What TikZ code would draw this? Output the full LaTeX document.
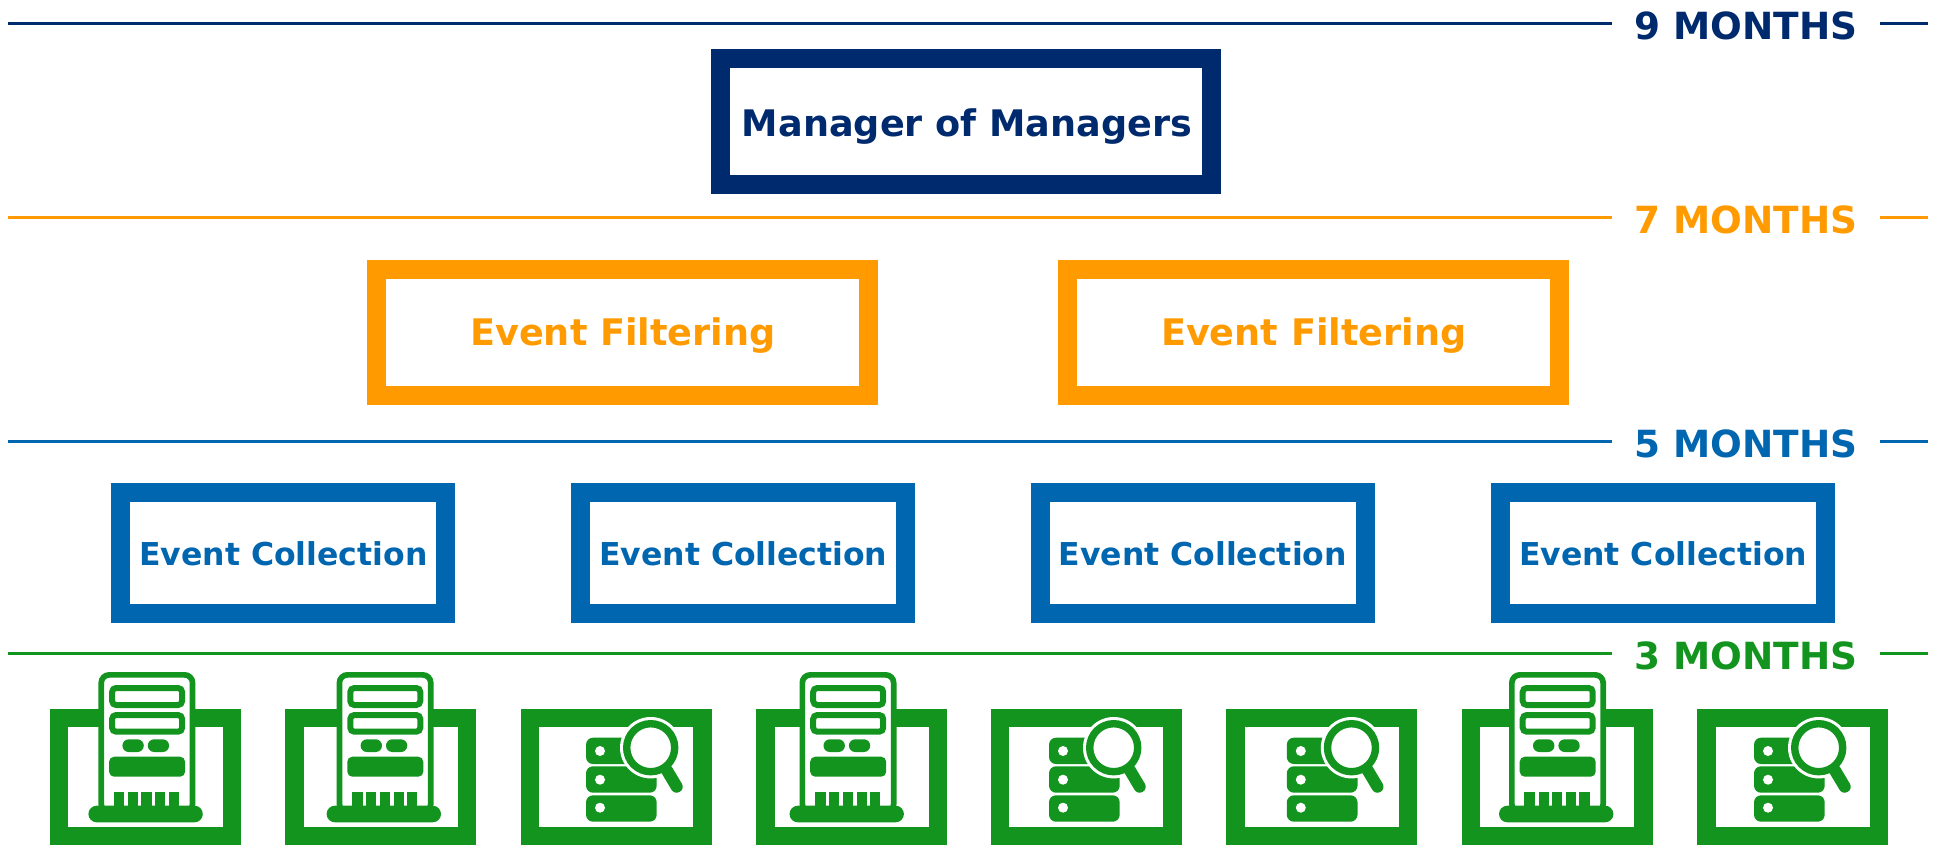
\documentclass[tikz,border=0pt]{standalone}
\usepackage{fontspec}
\setmainfont{DejaVu Sans}
\definecolor{navy}{HTML}{002A6E}
\definecolor{amber}{HTML}{FF9B00}
\definecolor{midblue}{HTML}{0066B0}
\definecolor{grass}{HTML}{12941F}
\tikzset{
  tierbox/.style={draw=#1,fill=white,line width=19bp,inner sep=0pt,outer sep=0pt,text=#1,font=\bfseries\fontsize{36.6bp}{40bp}\selectfont,text depth=0pt},
  topbox/.style={tierbox=navy,minimum width=491bp,minimum height=126bp,text height=30bp},
  filterbox/.style={tierbox=amber,minimum width=492bp,minimum height=126bp,text height=26.5bp},
  collectbox/.style={tierbox=midblue,minimum width=325bp,minimum height=121bp,text height=23.4bp,font=\bfseries\fontsize{31.5bp}{34bp}\selectfont},
  hostbox/.style={draw=grass,fill=white,line width=18.5bp,inner sep=0pt,outer sep=0pt,minimum width=172.5bp,minimum height=118bp},
  tierline/.style={draw=#1,line width=3bp},
  tierlabel/.style={text=#1,font=\bfseries\fontsize{37.4bp}{40bp}\selectfont,inner sep=0pt},
  serverico/.pic={
    \draw[grass,fill=white,line width=5.7bp,rounded corners=8bp] (2.85,2.85) rectangle (94.15,140);
    \draw[grass,line width=6bp,rounded corners=4bp] (13.7,16) rectangle (83.7,33);
    \draw[grass,line width=6bp,rounded corners=4bp] (13.7,43) rectangle (83.7,59.7);
    \fill[grass,rounded corners=6.3bp] (24,67.3) rectangle (45.4,80);
    \fill[grass,rounded corners=6.3bp] (49.4,67.3) rectangle (70.7,80);
    \fill[grass,rounded corners=5bp] (10.7,84.7) rectangle (86.7,104.7);
    \foreach \a/\b in {15.4/26,29.7/39.7,43/53.4,57/67,70.4/80.7}{\fill[grass] (\a,120.3) rectangle (\b,135);}
    \fill[grass,rounded corners=8.3bp] (-10,133.7) rectangle (104.4,150.3);
  },
  lensico/.pic={
    \foreach \t/\b in {0/26.3,28.6/55,57.6/84}{\fill[grass,rounded corners=7bp] (0,\t) rectangle (70.7,\b);}
    \foreach \t in {13.3,42,70}{\fill[white] (14,\t) circle[radius=5bp];}
    \fill[white] (64.7,10) circle[radius=30.7bp];
    \draw[grass,line width=7.4bp] (64.7,10) circle[radius=24bp];
    \draw[grass,line width=12bp,line cap=round] (80.7,32.3) -- (90.7,49);
  }
}
\begin{document}
\begin{tikzpicture}[x=1bp,y=-1bp]
\useasboundingbox (0,0) rectangle (1940,845);
% tier rules
\foreach \n/\y/\c/\t in {a/23.3/navy/9,b/217/amber/7,c/441/midblue/5,d/653/grass/3}{
  \coordinate (\n1) at (8,\y);
  \coordinate (\n2) at (1612,\y);
  \coordinate (\n3) at (1880,\y);
  \coordinate (\n4) at (1928,\y);
  \draw[tierline=\c] (\n1) -- (\n2);
  \draw[tierline=\c] (\n3) -- (\n4);
  \node[tierlabel=\c,anchor=center] (lab\n) at (1746,\y+3) {\t{} MONTHS};
}
\node[topbox] (mom) at (965.6,121.8) {\hspace*{3bp}Manager of Managers};
\node[filterbox] (f1) at (622.9,332.7) {Event Filtering};
\node[filterbox] (f2) at (1313.7,332.7) {Event Filtering};
\node[collectbox] (c1) at (283.4,553.3) {Event Collection};
\node[collectbox,text height=24.6bp] (c2) at (743.3,553.3) {Event Collection};
\node[collectbox] (c3) at (1202.8,553.3) {Event Collection};
\node[collectbox] (c4) at (1663.1,553.3) {Event Collection};
\foreach \n/\x in {1/145.5,2/380.6,3/616,4/851.6,5/1086.4,6/1321.8,7/1557,8/1792.6}{
  \node[hostbox] (h\n) at (\x,777) {};
}
\pic at (98.4,672) {serverico};
\pic at (336.6,672) {serverico};
\pic at (799.5,672) {serverico};
\pic at (1509,672) {serverico};
\pic at (586,737.7) {lensico};
\pic at (1049,737.7) {lensico};
\pic at (1286.8,737.7) {lensico};
\pic at (1754,737.7) {lensico};
\end{tikzpicture}
\end{document}
